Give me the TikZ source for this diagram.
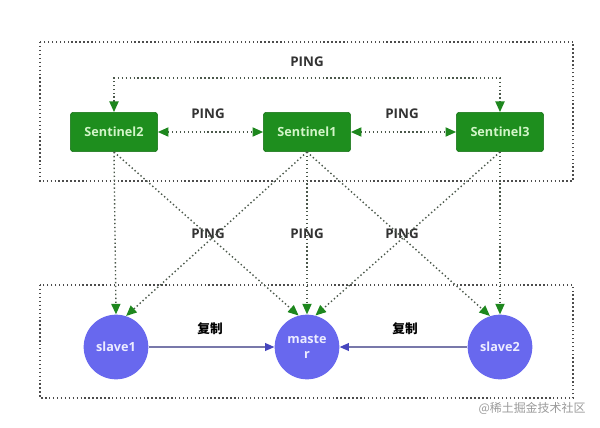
\documentclass[tikz,border=0pt]{standalone}
\usepackage{fontspec}
\setmainfont{Open Sans}
\newfontfamily\cjk{Noto Sans CJK SC}
\usetikzlibrary{arrows.meta}

\definecolor{sentgreen}{RGB}{30,142,30}
\definecolor{sentborder}{RGB}{18,110,18}
\definecolor{senttext}{RGB}{210,245,200}
\definecolor{tipgreen}{RGB}{30,135,30}
\definecolor{redisblue}{RGB}{104,104,238}
\definecolor{redistext}{RGB}{236,236,255}
\definecolor{dotgray}{RGB}{75,88,75}
\definecolor{copyline}{RGB}{120,120,170}
\definecolor{copytip}{RGB}{70,70,190}

\begin{document}
\begin{tikzpicture}[x=0.025cm, y=-0.025cm,
		sentinel/.style={rectangle, rounded corners=2pt, draw=sentborder, fill=sentgreen, text=senttext, font=\bfseries\fontsize{9}{10}\selectfont, minimum width=62pt, minimum height=28pt},
		redis/.style={circle, fill=redisblue, text=redistext, font=\bfseries\fontsize{9}{11}\selectfont, minimum size=46pt, inner sep=0pt, align=center},
		ping/.style={draw=dotgray, line width=1pt, dash pattern=on 1pt off 1.8pt, -{Triangle[length=7.5pt, width=6.5pt, color=tipgreen]}},
		pinglabel/.style={font=\bfseries\fontsize{9.5}{11}\selectfont, text=black!80},
		copy/.style={draw=copyline, line width=0.8pt, -{Triangle[length=6.5pt, width=5.5pt, color=copytip]}},
		region/.style={draw=black!70, line width=1pt, dash pattern=on 1pt off 1.8pt}
	]
	\useasboundingbox (0,0) rectangle (600,428);
	% Regions
	\draw[region] (40,42) rectangle (573,181);
	\draw[region] (40,285) rectangle (573,398);
	% Nodes
	\node[sentinel] (s2) at (114,132) {Sentinel2};
	\node[sentinel] (s1) at (307,132) {Sentinel1};
	\node[sentinel] (s3) at (500,132) {Sentinel3};
	\node[redis] (slave1) at (116,347) {slave1};
	\node[redis] (master) at (307,347) {maste\\r};
	\node[redis] (slave2) at (500,347) {slave2};
	% Labels
	\node[pinglabel] (ptop) at (307,62) {PING};
	\node[pinglabel] (p21) at (208,114) {PING};
	\node[pinglabel] (p13) at (402,114) {PING};
	\foreach \x/\n in {208/a,307/b,402/c} {
		\node[pinglabel] (pm\n) at (\x,234) {PING};
	}
	\node[font=\cjk\bfseries\fontsize{9}{10}\selectfont] (c1) at (210,329) {复制};
	\node[font=\cjk\bfseries\fontsize{9}{10}\selectfont] (c2) at (405,329) {复制};
	\node[font=\cjk\fontsize{8.5}{10}\selectfont, text=black!40] (mark) at (532,408) {@稀土掘金技术社区};
	% Sentinel pings
	\draw[ping, {Triangle[length=7.5pt, width=6.5pt, color=tipgreen]}-{Triangle[length=7.5pt, width=6.5pt, color=tipgreen]}] (s2.north) -- ++(0,-34) -| (s3.north);
	\draw[ping, {Triangle[length=7.5pt, width=6.5pt, color=tipgreen]}-{Triangle[length=7.5pt, width=6.5pt, color=tipgreen]}] (s2) -- (s1);
	\draw[ping, {Triangle[length=7.5pt, width=6.5pt, color=tipgreen]}-{Triangle[length=7.5pt, width=6.5pt, color=tipgreen]}] (s1) -- (s3);
	% Sentinels to redis
	\draw[ping] (s2.south) -- (slave1.north);
	\draw[ping] (s2.south) -- (master.105);
	\draw[ping] (s1.south) -- (slave1.72);
	\draw[ping] (s1.south) -- (master.north);
	\draw[ping] (s1.south) -- (slave2.108);
	\draw[ping] (s3.south) -- (master.75);
	\draw[ping] (s3.south) -- (slave2.north);
	% Replication
	\draw[copy] (slave1) -- (master);
	\draw[copy] (slave2) -- (master);
\end{tikzpicture}
\end{document}
